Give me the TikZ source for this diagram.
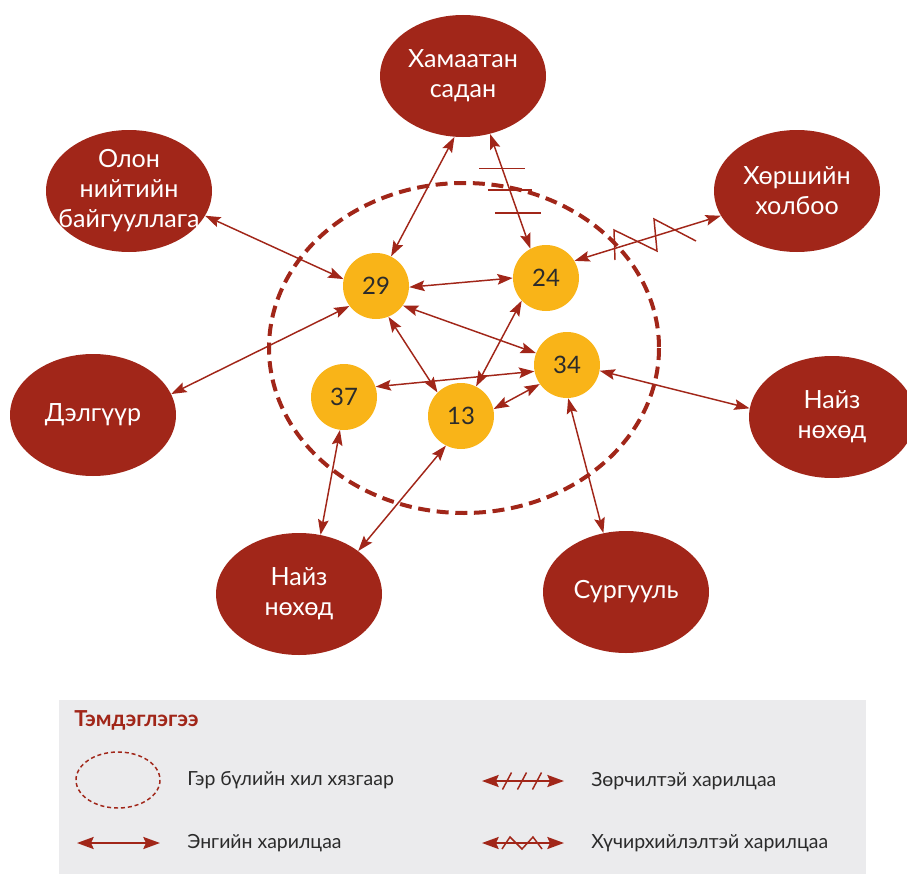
\documentclass[tikz,border=0pt]{standalone}
\usepackage{fontspec}
\setmainfont{Lato}
\usetikzlibrary{arrows.meta,shapes.geometric,calc}
\definecolor{clanred}{HTML}{A12619}
\definecolor{memberyellow}{HTML}{F9B418}
\definecolor{legendgray}{HTML}{EBEBED}
\definecolor{inktext}{HTML}{2B2B2B}

\begin{document}
\begin{tikzpicture}[x=0.75pt,y=-0.75pt,
    outer/.style={ellipse,fill=clanred,text=white,minimum width=124.5pt,minimum height=91.5pt,
        inner sep=-40pt,align=center,font=\fontsize{18.8}{22.5}\selectfont},
    member/.style={circle,fill=memberyellow,text=inktext,minimum size=49.5pt,inner sep=0pt,
        font=\fontsize{18}{20}\selectfont},
    link/.style={draw=clanred,line width=1.1pt,
        {Stealth[length=11.5pt,width=8pt,inset=2pt]}-{Stealth[length=11.5pt,width=8pt,inset=2pt]}},
    crossmark/.style={draw=clanred,line width=1.1pt},
    boundary/.style={draw=clanred,line width=3pt,dash pattern=on 9pt off 5pt},
    legtext/.style={anchor=west,inner sep=0pt,text=inktext,font=\fontsize{14.6}{17}\selectfont},
    legarrow/.style={draw=clanred,line width=1.6pt,
        {Stealth[length=12.5pt,width=9pt,inset=2pt]}-{Stealth[length=12.5pt,width=9pt,inset=2pt]}}
]
\useasboundingbox (0,0) rectangle (907,874);
\draw[boundary] (464,348) ellipse [x radius=195, y radius=165];
\node[outer] (ham) at (463,76) {Хамаатан\\садан};
\node[outer] (olon) at (129,191) {Олон\\нийтийн\\байгууллага};
\node[outer] (hursh) at (797,191) {Хөршийн\\холбоо};
\node[outer] (delg) at (93,415) {Дэлгүүр};
\node[outer] (naizr) at (832,417) {Найз\\нөхөд};
\node[outer] (naizb) at (299,594) {Найз\\нөхөд};
\node[outer] (surg) at (626,592) {Сургууль};
\node[member] (m29) at (376,286) {29};
\node[member] (m24) at (546,278) {24};
\node[member] (m34) at (567,365) {34};
\node[member] (m37) at (344,397) {37};
\node[member] (m13) at (461,416) {13};
\draw
(ham.-98) edge[link] (m29.63)
(ham.-65) edge[link] (m24.118)
(olon.-18) edge[link] (m29.168)
(delg.15) edge[link] (m29.217)
(m29.-2) edge[link] (m24.180)
(m29.-36) edge[link] (m34.159)
(m29.-68) edge[link] (m13.135)
(m13.63) edge[link] (m24.223)
(m37.18) edge[link] (m34.191)
(m13.12) edge[link] (m34.215)
(hursh.198) edge[link] (m24.31)
(m34.-10) edge[link] (naizr.174)
(m34.-88) edge[link] (surg.111)
(m37.-97) edge[link] (naizb.70)
(m13.-117) edge[link] (naizb.36);
\draw[crossmark] ($(ham.-65)!0.3!(m24.118)$) ++(-23,0) -- ++(46,0);
\draw[crossmark] ($(ham.-65)!0.49!(m24.118)$) ++(-22,0) -- ++(44,0);
\draw[crossmark] ($(ham.-65)!0.69!(m24.118)$) ++(-23,0) -- ++(46,0);
\draw[crossmark] (615,260) -- (614,230) -- (657,251) -- (654,219) -- (696,241);
\fill[legendgray] (59,700) rectangle (866,874);
\node[anchor=west,inner sep=0pt,text=clanred,font=\fontsize{16.5}{19}\bfseries] (legtitle) at (74,720) {Тэмдэглэгээ};
\draw[draw=clanred,line width=1.1pt,dash pattern=on 3pt off 2.2pt] (118,780) ellipse [x radius=42, y radius=28];
\node[legtext] (legbound) at (187,780) {Гэр бүлийн хил хязгаар};
\draw[legarrow] (77,843) -- (160,843);
\node[legtext] (legplain) at (187,843) {Энгийн харилцаа};
\draw[legarrow] (482,781) -- (564,781);
\draw[crossmark] (502.5,789.5) -- (511.5,772.5);
\draw[crossmark] (517.5,789.5) -- (526.5,772.5);
\draw[crossmark] (532.5,789.5) -- (541.5,772.5);
\node[legtext] (legconflict) at (591,781) {Зөрчилтэй харилцаа};
\draw[legarrow] (482,843) -- (564,843);
\draw[crossmark] (502,849) -- (510,837) -- (522,849) -- (533,837) -- (542,849);
\node[legtext] (legviolent) at (591,843) {Хүчирхийлэлтэй харилцаа};
\end{tikzpicture}
\end{document}
